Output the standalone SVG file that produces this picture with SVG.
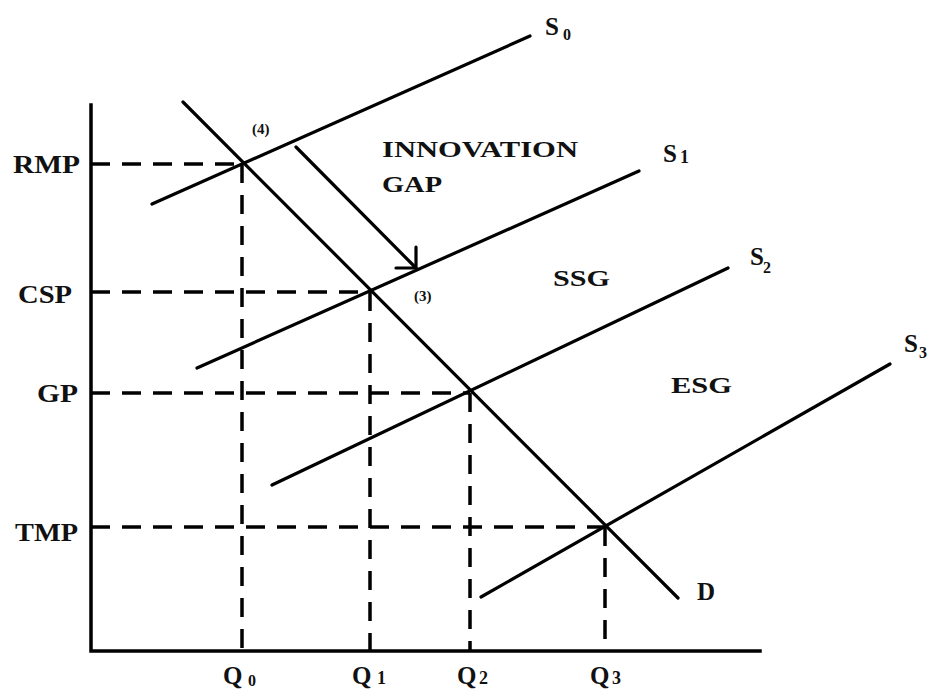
<svg xmlns="http://www.w3.org/2000/svg" width="929" height="690" viewBox="0 0 929 690">
<style>
.ax{stroke:#000;stroke-width:3.5;fill:none;stroke-linecap:square}
.ln{stroke:#000;stroke-width:3.2;fill:none;stroke-linecap:round}
.dash{stroke:#000;stroke-width:3.5;fill:none;stroke-dasharray:19 12}
text{font-family:"Liberation Serif","Times New Roman",serif;font-weight:bold;fill:#111}
.lb{font-size:25px}
.sm{font-size:15px}
.sub{font-size:16px}
</style>
<rect width="929" height="690" fill="#fff"/>
<g id="axes">
<path class="ax" d="M91,105 V651 H760"/>
</g>
<g id="connectors">
<path class="dash" d="M91,164 H242"/>
<path class="dash" d="M91,292 H370"/>
<path class="dash" d="M91,393 H470"/>
<path class="dash" d="M91,527 H605"/>
<path class="dash" d="M242,164 V651"/>
<path class="dash" d="M370,292 V651"/>
<path class="dash" d="M470,393 V651"/>
<path class="dash" d="M605,527 V651"/>
<path class="ln" d="M296,147 L416,268"/>
<path class="ln" d="M416,268 V247 M416,268 H396"/>
</g>
<g id="D"><path class="ln" d="M183,102 L678,598"/><text class="lb" x="697" y="600">D</text></g>
<g id="S0"><path class="ln" d="M152,204 L530,36"/><text class="lb" x="545" y="35">S</text><text class="sub" x="563" y="40">0</text></g>
<g id="S1"><path class="ln" d="M197,368 L639,171"/><text class="lb" x="663" y="162">S</text><text font-size="18" x="680" y="163">1</text></g>
<g id="S2"><path class="ln" d="M272,485 L728,268"/><text class="lb" x="750" y="265">S</text><text class="sub" x="763" y="273">2</text></g>
<g id="S3"><path class="ln" d="M481,597 L890,364"/><text class="lb" x="904" y="352">S</text><text class="sub" x="919" y="358">3</text></g>
<g id="labels-y">
<text class="lb" x="13" y="173" textLength="67" lengthAdjust="spacingAndGlyphs">RMP</text>
<text class="lb" x="18" y="303" textLength="54" lengthAdjust="spacingAndGlyphs">CSP</text>
<text class="lb" x="37" y="402" textLength="41" lengthAdjust="spacingAndGlyphs">GP</text>
<text class="lb" x="15" y="541" textLength="63" lengthAdjust="spacingAndGlyphs">TMP</text>
</g>
<g id="labels-x">
<text font-size="25" x="223" y="684">Q</text><text class="sub" x="248" y="686">0</text>
<text font-size="25" x="352" y="684">Q</text><text font-size="18" x="377" y="684">1</text>
<text font-size="25" x="457" y="684">Q</text><text font-size="18" x="479" y="684">2</text>
<text font-size="25" x="590" y="684">Q</text><text font-size="18" x="612" y="684">3</text>
</g>
<g id="regions">
<text font-size="24" x="382" y="157" textLength="196" lengthAdjust="spacingAndGlyphs">INNOVATION</text>
<text font-size="24" x="382" y="192" textLength="60" lengthAdjust="spacingAndGlyphs">GAP</text>
<text font-size="24" x="553" y="286" textLength="57" lengthAdjust="spacingAndGlyphs">SSG</text>
<text font-size="24" x="671" y="393" textLength="61" lengthAdjust="spacingAndGlyphs">ESG</text>
<text class="sm" x="252" y="134">(4)</text>
<text class="sm" x="414" y="301">(3)</text>
</g>
</svg>
